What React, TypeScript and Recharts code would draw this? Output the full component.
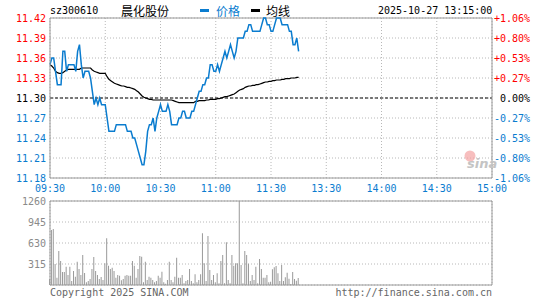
import {
  ComposedChart,
  BarChart,
  Bar,
  Line,
  XAxis,
  YAxis,
  CartesianGrid,
  ReferenceLine,
} from "recharts";

const prevClose = 11.3;

const timeTicks = [0, 30, 60, 90, 120, 150, 180, 210, 240];
const timeLabels = ["09:30", "10:00", "10:30", "11:00", "11:30", "13:30", "14:00", "14:30", "15:00"];

const priceTicks = [11.18, 11.21, 11.24, 11.27, 11.3, 11.33, 11.36, 11.39, 11.42];
const priceLabels = ["11.18", "11.21", "11.24", "11.27", "11.30", "11.33", "11.36", "11.39", "11.42"];
const pctLabels = ["-1.06%", "-0.80%", "-0.53%", "-0.27%", "0.00%", "+0.27%", "+0.53%", "+0.80%", "+1.06%"];

const volTicks = [0, 315, 630, 945, 1260];
const volLabels = ["", "315", "630", "945", "1260"];

// one value per minute, 09:30 .. 13:15
const prices = [
  11.35, 11.36, 11.36, 11.34, 11.32, 11.32, 11.32, 11.37, 11.37, 11.34,
  11.35, 11.35, 11.35, 11.35, 11.34, 11.37, 11.38, 11.35, 11.33, 11.34,
  11.34, 11.34, 11.33, 11.31, 11.29, 11.30, 11.29, 11.30, 11.29, 11.29,
  11.29, 11.27, 11.25, 11.25, 11.25, 11.25, 11.26, 11.26, 11.26, 11.26,
  11.26, 11.26, 11.25, 11.25, 11.25, 11.24, 11.24, 11.23, 11.22, 11.21,
  11.20, 11.20, 11.22, 11.25, 11.26, 11.26, 11.27, 11.25, 11.27, 11.28,
  11.29, 11.28, 11.28, 11.28, 11.29, 11.28, 11.26, 11.26, 11.26, 11.26,
  11.27, 11.27, 11.28, 11.28, 11.27, 11.27, 11.27, 11.28, 11.28, 11.29,
  11.30, 11.31, 11.31, 11.32, 11.32, 11.33, 11.33, 11.35, 11.35, 11.34,
  11.34, 11.35, 11.34, 11.35, 11.36, 11.37, 11.36, 11.37, 11.38, 11.37,
  11.36, 11.37, 11.39, 11.39, 11.39, 11.39, 11.40, 11.40, 11.41, 11.41,
  11.40, 11.40, 11.40, 11.40, 11.40, 11.41, 11.42, 11.42, 11.41, 11.41,
  11.40, 11.40, 11.41, 11.42, 11.42, 11.42, 11.41, 11.41, 11.41, 11.41,
  11.40, 11.40, 11.38, 11.38, 11.39, 11.37,
];

const avgPrices = [
  11.350, 11.348, 11.345, 11.340, 11.338, 11.337, 11.337, 11.338, 11.340, 11.342,
  11.343, 11.343, 11.343, 11.343, 11.343, 11.343, 11.343, 11.345, 11.345, 11.345,
  11.345, 11.345, 11.345, 11.342, 11.340, 11.339, 11.338, 11.337, 11.337, 11.337,
  11.337, 11.332, 11.328, 11.326, 11.324, 11.322, 11.321, 11.320, 11.319, 11.318,
  11.318, 11.317, 11.316, 11.316, 11.315, 11.314, 11.313, 11.311, 11.309, 11.306,
  11.303, 11.301, 11.300, 11.299, 11.298, 11.298, 11.297, 11.297, 11.297, 11.297,
  11.297, 11.297, 11.297, 11.297, 11.297, 11.297, 11.297, 11.296, 11.295, 11.294,
  11.293, 11.293, 11.293, 11.293, 11.293, 11.293, 11.293, 11.293, 11.293, 11.295,
  11.295, 11.296, 11.296, 11.296, 11.296, 11.297, 11.297, 11.298, 11.298, 11.298,
  11.298, 11.299, 11.299, 11.300, 11.301, 11.302, 11.302, 11.303, 11.304, 11.305,
  11.306, 11.308, 11.310, 11.312, 11.313, 11.314, 11.316, 11.317, 11.318, 11.318,
  11.319, 11.319, 11.320, 11.320, 11.321, 11.322, 11.323, 11.324, 11.324, 11.325,
  11.325, 11.326, 11.326, 11.327, 11.327, 11.327, 11.328, 11.328, 11.329, 11.329,
  11.329, 11.330, 11.330, 11.330, 11.331, 11.331,
];

const volumes = [
  90, 825, 840, 315, 110, 510, 360, 195, 195, 275,
  150, 275, 60, 210, 125, 350, 240, 150, 450, 180,
  40, 60, 90, 240, 420, 210, 150, 90, 120, 75,
  325, 700, 290, 240, 260, 210, 110, 150, 140, 70,
  90, 140, 150, 140, 140, 360, 290, 110, 240, 435,
  425, 40, 350, 75, 125, 110, 75, 40, 60, 140,
  110, 200, 40, 20, 75, 350, 75, 40, 125, 410,
  110, 110, 150, 25, 60, 75, 240, 60, 25, 160,
  40, 75, 160, 775, 325, 60, 735, 225, 75, 150,
  40, 175, 25, 360, 450, 25, 640, 75, 25, 450,
  290, 325, 325, 1260, 300, 25, 510, 450, 320, 60,
  150, 75, 275, 25, 390, 240, 110, 110, 150, 40,
  50, 235, 265, 285, 175, 60, 300, 60, 115, 185,
  95, 15, 195, 90, 65, 105,
];

const data = prices.map((price, i) => ({
  t: i,
  price,
  avg: avgPrices[i],
  vol: volumes[i],
}));

const mono = "'DejaVu Sans Mono', monospace";
const cjk = "'Noto Sans CJK SC', sans-serif";
const BLUE = "#0a7ccf";
const RED = "#ff0000";
const GRID = "#b8b8b8";
const FRAME = "#9a9a9a";

const tone = (i: number) => (i < 4 ? BLUE : i > 4 ? RED : "#000");

const LeftPriceTick = ({ x, y, payload }: any) => {
  const i = priceTicks.indexOf(payload.value);
  return (
    <text x={x} y={y} dy="0.35em" textAnchor="end" fill={tone(i)} fontSize={10} fontFamily={mono}>
      {priceLabels[i]}
    </text>
  );
};

const RightPctTick = ({ x, y, payload }: any) => {
  const i = priceTicks.indexOf(payload.value);
  return (
    <text x={x + 35} y={y} dy="0.35em" textAnchor="end" fill={tone(i)} fontSize={10} fontFamily={mono}>
      {pctLabels[i]}
    </text>
  );
};

const TimeTick = ({ x, y, payload }: any) => {
  const i = timeTicks.indexOf(payload.value);
  return (
    <text x={x} y={y} dy="0.71em" textAnchor="middle" fill={BLUE} fontSize={10} fontFamily={mono}>
      {timeLabels[i]}
    </text>
  );
};

const VolTick = ({ x, y, payload }: any) => {
  const i = volTicks.indexOf(payload.value);
  return (
    <text x={x} y={y} dy="0.35em" textAnchor="end" fill="#8a8a8a" fontSize={10} fontFamily={mono}>
      {volLabels[i]}
    </text>
  );
};

const label = (left: number, top: number, extra: React.CSSProperties = {}): React.CSSProperties => ({
  position: "absolute",
  left,
  top,
  fontFamily: mono,
  fontSize: 10,
  lineHeight: "12px",
  whiteSpace: "nowrap",
  ...extra,
});

export default function App() {
  return (
    <div style={{ position: "absolute", left: 0, top: 0, width: 545, height: 300, background: "#fff", overflow: "hidden" }}>
      <div style={label(50, 5, { color: "#000" })}>sz300610</div>
      <div style={label(121, 3, { fontFamily: cjk, fontSize: 12, lineHeight: "15px", color: "#000" })}>晨化股份</div>
      <div style={{ position: "absolute", left: 200, top: 9, width: 9, height: 3, background: BLUE }} />
      <div style={label(216, 3, { fontFamily: cjk, fontSize: 12, lineHeight: "15px", color: BLUE })}>价格</div>
      <div style={{ position: "absolute", left: 251, top: 9, width: 9, height: 3, background: "#000" }} />
      <div style={label(266, 3, { fontFamily: cjk, fontSize: 12, lineHeight: "15px", color: "#000" })}>均线</div>
      <div style={label(378, 5, { color: "#000", width: 113, textAlign: "right" })}>2025-10-27 13:15:00</div>

      <div style={{ position: "absolute", left: 0, top: 0 }}>
        <ComposedChart width={545} height={200} data={data} margin={{ top: 18, right: 0, bottom: 0, left: 0 }}>
          <CartesianGrid yAxisId="p" stroke={GRID} strokeDasharray="1 2" />
          <XAxis
            dataKey="t"
            type="number"
            domain={[0, 240]}
            ticks={timeTicks}
            interval={0}
            height={22}
            tickLine={false}
            tickSize={0}
            tickMargin={7}
            axisLine={{ stroke: FRAME }}
            tick={<TimeTick />}
          />
          <YAxis
            yAxisId="p"
            width={50}
            domain={[11.18, 11.42]}
            ticks={priceTicks}
            interval={0}
            tickLine={false}
            tickSize={0}
            tickMargin={4}
            axisLine={{ stroke: FRAME }}
            tick={<LeftPriceTick />}
          />
          <YAxis
            yAxisId="r"
            orientation="right"
            width={53}
            domain={[11.18, 11.42]}
            ticks={priceTicks}
            interval={0}
            tickLine={false}
            tickSize={0}
            tickMargin={3}
            axisLine={{ stroke: FRAME }}
            tick={<RightPctTick />}
          />
          <ReferenceLine yAxisId="p" y={11.42} stroke={FRAME} />
          <ReferenceLine yAxisId="p" y={prevClose} stroke="#000" strokeDasharray="3 2" />
          <Line
            yAxisId="r"
            type="linear"
            dataKey="price"
            stroke="none"
            dot={false}
            legendType="none"
            isAnimationActive={false}
          />
          <Line
            yAxisId="p"
            type="linear"
            dataKey="avg"
            stroke="#000"
            strokeWidth={1.2}
            dot={false}
            isAnimationActive={false}
          />
          <Line
            yAxisId="p"
            type="linear"
            dataKey="price"
            stroke={BLUE}
            strokeWidth={1.5}
            dot={false}
            isAnimationActive={false}
          />
        </ComposedChart>
      </div>

      <svg style={{ position: "absolute", left: 455, top: 145 }} width={45} height={30}>
        <circle cx={15} cy={11} r={5.5} fill="#f3a3a3" opacity={0.7} />
        <text x={12} y={23} fontFamily="'DejaVu Sans', sans-serif" fontStyle="italic" fontWeight="bold" fontSize={13} fill="#c4c4c4">
          sina
        </text>
      </svg>

      <div style={{ position: "absolute", left: 0, top: 195 }}>
        <BarChart width={545} height={105} data={data} margin={{ top: 6, right: 53, bottom: 14, left: 0 }}>
          <CartesianGrid stroke={GRID} strokeDasharray="1 2" />
          <XAxis
            dataKey="t"
            type="number"
            domain={[0, 240]}
            ticks={timeTicks}
            interval={0}
            height={1}
            tick={false}
            tickLine={false}
            axisLine={{ stroke: FRAME }}
          />
          <YAxis
            width={50}
            domain={[0, 1260]}
            ticks={volTicks}
            interval={0}
            tickLine={false}
            tickSize={0}
            tickMargin={4}
            axisLine={{ stroke: FRAME }}
            tick={<VolTick />}
          />
          <ReferenceLine y={1260} stroke={FRAME} />
          <ReferenceLine x={240} stroke={FRAME} />
          <Bar dataKey="vol" fill="#999" barSize={1} isAnimationActive={false} />
        </BarChart>
      </div>

      <div style={label(50, 287, { color: "#666" })}>Copyright 2025 SINA.COM</div>
      <div style={label(333, 287, { color: "#666", width: 159, textAlign: "right" })}>http://finance.sina.com.cn</div>
    </div>
  );
}
